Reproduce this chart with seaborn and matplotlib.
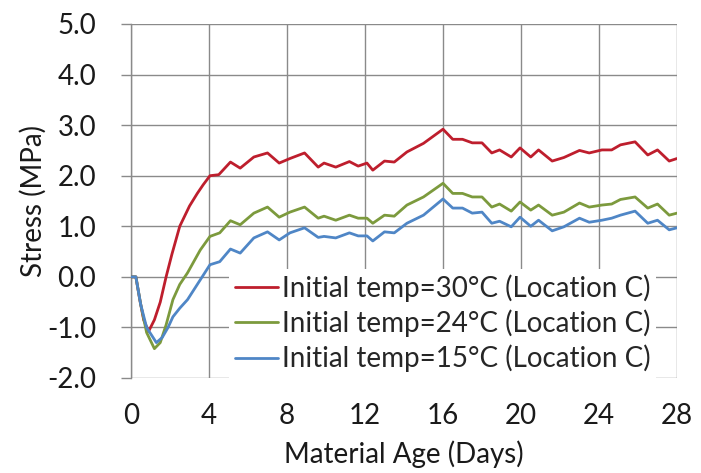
import matplotlib
matplotlib.use("Agg")
import matplotlib.pyplot as plt
import matplotlib.ticker as mticker
import numpy as np
import pandas as pd
import seaborn as sns

# Stress development at location C for three initial placement temperatures
age_30 = [0, 0.25, 0.45, 0.65, 0.9, 1.2, 1.5, 1.8, 2.1, 2.5, 3.0, 3.4, 3.7, 4.05, 4.5,
          5.1, 5.6, 6.3, 7.0, 7.6, 8.15, 8.9, 9.6, 9.9, 10.5, 11.2, 11.65, 12.1, 12.4,
          13.0, 13.5, 14.15, 15.0, 16.0, 16.5, 17.0, 17.5, 18.0, 18.5, 18.9, 19.5,
          19.95, 20.5, 20.9, 21.6, 22.2, 23.0, 23.5, 24.15, 24.65, 25.1, 25.85, 26.5,
          27.0, 27.6, 28.0]
stress_30 = [0, 0, -0.45, -0.85, -1.08, -0.85, -0.5, 0.0, 0.45, 1.0, 1.4, 1.65, 1.82, 2.0, 2.02,
             2.27, 2.15, 2.37, 2.45, 2.25, 2.34, 2.45, 2.17, 2.25, 2.17, 2.28, 2.19, 2.25, 2.11,
             2.29, 2.27, 2.47, 2.64, 2.92, 2.72, 2.72, 2.65, 2.65, 2.45, 2.51, 2.37,
             2.55, 2.37, 2.51, 2.29, 2.36, 2.5, 2.45, 2.51, 2.51, 2.61, 2.67, 2.41,
             2.51, 2.29, 2.34]

age_24 = [0, 0.25, 0.5, 0.8, 1.2, 1.5, 1.8, 2.15, 2.5, 2.9, 3.55, 4.05, 4.55,
          5.1, 5.6, 6.3, 7.0, 7.6, 8.15, 8.9, 9.6, 9.9, 10.5, 11.2, 11.65, 12.1, 12.4,
          13.0, 13.5, 14.15, 15.0, 16.0, 16.5, 17.0, 17.5, 18.0, 18.5, 18.9, 19.5,
          19.95, 20.5, 20.9, 21.6, 22.2, 23.0, 23.5, 24.15, 24.65, 25.1, 25.85, 26.5,
          27.0, 27.6, 28.0]
stress_24 = [0, 0, -0.55, -1.1, -1.42, -1.3, -0.95, -0.45, -0.15, 0.08, 0.53, 0.8, 0.87,
             1.11, 1.03, 1.26, 1.38, 1.18, 1.28, 1.38, 1.16, 1.2, 1.12, 1.22, 1.16, 1.16, 1.06,
             1.22, 1.2, 1.42, 1.58, 1.85, 1.65, 1.65, 1.58, 1.58, 1.38, 1.44, 1.3,
             1.48, 1.32, 1.42, 1.22, 1.28, 1.46, 1.38, 1.42, 1.44, 1.53, 1.58, 1.36,
             1.44, 1.22, 1.26]

age_15 = [0, 0.25, 0.5, 0.8, 1.3, 1.6, 1.9, 2.15, 2.5, 2.9, 3.55, 4.05, 4.55,
          5.1, 5.6, 6.3, 7.0, 7.6, 8.15, 8.9, 9.6, 9.9, 10.5, 11.2, 11.65, 12.1, 12.4,
          13.0, 13.5, 14.15, 15.0, 16.0, 16.5, 17.0, 17.5, 18.0, 18.5, 18.9, 19.5,
          19.95, 20.5, 20.9, 21.6, 22.2, 23.0, 23.5, 24.15, 24.65, 25.1, 25.85, 26.5,
          27.0, 27.6, 28.0]
stress_15 = [0, 0, -0.55, -1.0, -1.3, -1.2, -1.0, -0.79, -0.62, -0.45, -0.06, 0.24, 0.3,
             0.55, 0.47, 0.77, 0.89, 0.73, 0.87, 0.97, 0.78, 0.8, 0.77, 0.87, 0.81, 0.81, 0.71,
             0.89, 0.87, 1.06, 1.22, 1.54, 1.36, 1.36, 1.26, 1.28, 1.06, 1.1, 0.99,
             1.18, 1.0, 1.12, 0.91, 0.99, 1.16, 1.08, 1.12, 1.16, 1.22, 1.3, 1.06,
             1.12, 0.93, 0.97]

series_labels = ["Initial temp=30°C (Location C)",
                 "Initial temp=24°C (Location C)",
                 "Initial temp=15°C (Location C)"]
series_colors = ["#BE1E2D", "#7C9A3D", "#4F86C6"]

x_ticks = [0, 4, 8, 12, 16, 20, 24, 28]
y_ticks = [-2, -1, 0, 1, 2, 3, 4, 5]

frames = []
for lab, ages, vals in zip(series_labels, [age_30, age_24, age_15],
                           [stress_30, stress_24, stress_15]):
    frames.append(pd.DataFrame({"age": ages, "stress": vals, "series": lab}))
df = pd.concat(frames, ignore_index=True)

sns.set_theme(style="white")
plt.rcParams["font.family"] = ["Lato", "DejaVu Sans"]

fig = plt.figure(figsize=(7.01, 4.73), dpi=100)
ax = fig.add_axes([131 / 701, 1 - 378 / 473, 546 / 701, 354 / 473])

grid_col = "#8a8a8a"
text_col = "#1a1a1a"
fs = 20

sns.lineplot(data=df, x="age", y="stress", hue="series", hue_order=series_labels,
             palette=dict(zip(series_labels, series_colors)), linewidth=2.0,
             sort=False, estimator=None, ax=ax, zorder=3)

ax.set_xlim(0, 28)
ax.set_ylim(-2, 5)
ax.set_xticks(x_ticks)
ax.set_yticks(y_ticks)
ax.yaxis.set_major_formatter(mticker.FormatStrFormatter("%.1f"))
ax.grid(True, color=grid_col, linewidth=1.0)
ax.set_axisbelow(True)
for s in ["top", "right", "bottom"]:
    ax.spines[s].set_visible(False)
ax.spines["left"].set_color(grid_col)
ax.spines["left"].set_linewidth(1.0)

ax.tick_params(axis="y", which="major", direction="out", length=7, width=1.0,
               color=grid_col, pad=18, labelsize=fs, labelcolor=text_col, left=True)
ax.tick_params(axis="x", which="major", length=0, pad=18, labelsize=fs,
               labelcolor=text_col)

ax.set_xlabel("Material Age (Days)", fontsize=fs, color=text_col, labelpad=8)
ax.set_ylabel("Stress (MPa)", fontsize=fs, color=text_col, labelpad=0)

leg = ax.legend(loc="lower right", frameon=True, fancybox=False, framealpha=1,
                facecolor="white", edgecolor="none", fontsize=fs,
                handlelength=1.55, handletextpad=0.15, labelspacing=0.28,
                borderaxespad=0.0, borderpad=0.2,
                bbox_to_anchor=(0.962, 0.0))
leg.set_zorder(5)
for line in leg.get_lines():
    line.set_linewidth(2.0)

fig.savefig("out.png", dpi=100, facecolor="white")
